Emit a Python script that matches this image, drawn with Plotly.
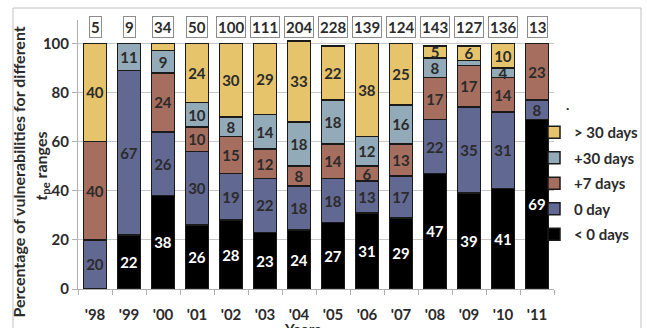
import plotly.graph_objects as go

years = ["'98", "'99", "'00", "'01", "'02", "'03", "'04", "'05", "'06", "'07", "'08", "'09", "'10", "'11"]
counts = [5, 9, 34, 50, 100, 111, 204, 228, 139, 124, 143, 127, 136, 13]

lt0 = [0, 22, 38, 26, 28, 23, 24, 27, 31, 29, 47, 39, 41, 69]
day0 = [20, 67, 26, 30, 19, 22, 18, 18, 13, 17, 22, 35, 31, 8]
p7 = [40, 0, 24, 10, 15, 12, 8, 14, 6, 13, 17, 17, 14, 23]
p30 = [0, 11, 9, 10, 8, 14, 18, 18, 12, 16, 8, 2, 4, 0]
gt30 = [40, 0, 3, 24, 30, 29, 33, 22, 38, 25, 5, 6, 10, 0]

# segments too small to carry a label in the original
unlabeled = {("> 30 days", "'00"), ("+30 days", "'09")}

series = [
    ("< 0 days", lt0, "#000000", "#ffffff"),
    ("0 day", day0, "#616892", "#2b2b2b"),
    ("+7 days", p7, "#A66E5E", "#2b2b2b"),
    ("+30 days", p30, "#93AAB9", "#2b2b2b"),
    ("> 30 days", gt30, "#E5C46C", "#2b2b2b"),
]

FONT = "Lato"
TXT = "#2b2b2b"
fig = go.Figure()
for i, (name, vals, col, tcol) in enumerate(series):
    texts = []
    for y, v in zip(years, vals):
        if v == 0 or (name, y) in unlabeled:
            texts.append("")
        else:
            texts.append(str(v))
    fig.add_trace(go.Bar(
        name=name, x=years, y=[v if v else None for v in vals], text=texts,
        textposition="inside", insidetextanchor="middle", textangle=0,
        constraintext="none",
        textfont=dict(family=FONT, size=15, color=tcol, weight="bold"),
        marker=dict(color=col, line=dict(color="#1a1a1a", width=1.5)),
        legendgroup=name, legendrank=len(series) - i, hoverinfo="skip",
    ))

def px_x(px):
    return (px - 78) / 476

def px_y(py):
    return (289 - py) / 269

annotations = []
for y, c in zip(years, counts):
    annotations.append(dict(
        x=y, y=106.6, xref="x", yref="y", text=str(c), showarrow=False,
        font=dict(family=FONT, size=15, color=TXT, weight="bold"),
        bgcolor="white", bordercolor="#8c8c8c", borderwidth=1, borderpad=1,
    ))

annotations += [
    dict(x=px_x(6), y=px_y(172), xref="paper", yref="paper", textangle=-90,
         text="Percentage of vulnerabilities for different", showarrow=False,
         font=dict(family=FONT, size=16, color=TXT, weight="bold")),
    dict(x=px_x(28), y=px_y(166), xref="paper", yref="paper", textangle=-90,
         text="<i>t</i><sub>pe</sub> ranges", showarrow=False,
         font=dict(family=FONT, size=16, color=TXT, weight="bold")),
    dict(x=px_x(302), y=px_y(318), xref="paper", yref="paper", yanchor="top",
         text="Years", showarrow=False,
         font=dict(family=FONT, size=15, color=TXT, weight="bold")),
    dict(x=px_x(571), y=px_y(104), xref="paper", yref="paper", yanchor="middle",
         text=".", showarrow=False,
         font=dict(family=FONT, size=14, color=TXT, weight="bold")),
]

fig.update_layout(
    width=647, height=328,
    margin=dict(l=78, r=93, t=20, b=39, autoexpand=False),
    paper_bgcolor="white", plot_bgcolor="white",
    barmode="stack", bargap=0.32,
    showlegend=True,
    legend=dict(x=px_x(534), y=px_y(116), xanchor="left", yanchor="top",
                traceorder="grouped", tracegroupgap=3,
                font=dict(family=FONT, size=15, color=TXT, weight="bold"),
                bgcolor="rgba(0,0,0,0)", itemclick=False),
    annotations=annotations,
    shapes=[dict(type="rect", xref="paper", yref="paper",
                 x0=px_x(13), x1=px_x(641), y0=-0.3, y1=px_y(8),
                 line=dict(color="#c0c0c0", width=1))],
    xaxis=dict(type="category", range=[-0.5, 13.5], showline=True, linecolor="#b0b0b0",
               linewidth=1, ticks="outside", tickson="boundaries", ticklen=5,
               tickcolor="#b0b0b0", showgrid=False, ticklabelstandoff=12, automargin=False,
               tickfont=dict(family=FONT, size=15, color=TXT, weight="bold")),
    yaxis=dict(range=[0, 109.5], tickvals=[0, 20, 40, 60, 80, 100], showline=True,
               linecolor="#b0b0b0", linewidth=1, ticks="outside", ticklen=5,
               tickcolor="#b0b0b0", showgrid=True, gridcolor="#c8c8c8", gridwidth=1,
               zeroline=False, automargin=False,
               tickfont=dict(family=FONT, size=15, color=TXT, weight="bold")),
    font=dict(family=FONT),
)

fig.write_html("out.html")
